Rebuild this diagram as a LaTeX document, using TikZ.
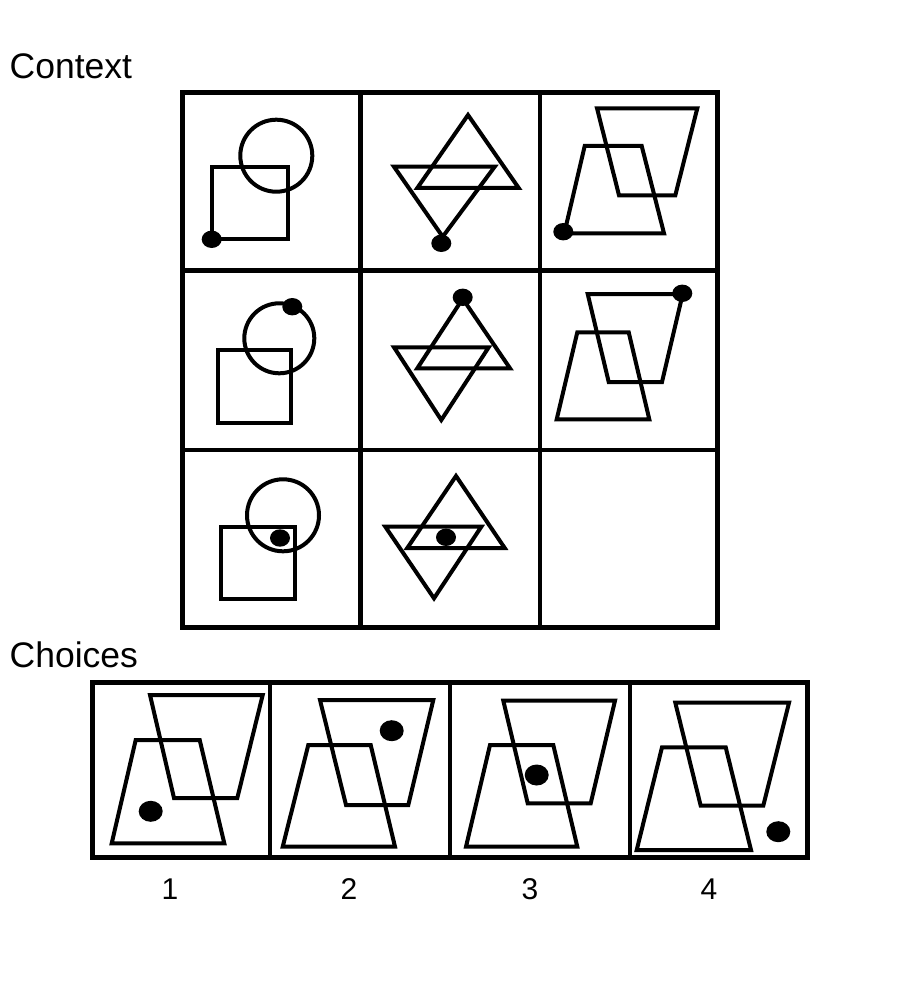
\documentclass[tikz,border=0pt]{standalone}
\usepackage{fontspec}
\setmainfont{Liberation Sans}
\begin{document}
\begin{tikzpicture}[x=1pt, y=-1pt,
    fig/.style={line width=4pt, line join=miter},
    frame/.style={line width=4.5pt},
    blob/.style={fill=black},
    caption/.style={font=\fontsize{35.5}{42}\selectfont, anchor=base west, inner sep=0pt},
    numlabel/.style={font=\fontsize{30}{36}\selectfont, anchor=base, inner sep=0pt}]
\useasboundingbox[fill=white] (0,0) rectangle (900,1000);

% Context label
\node[caption] (context) at (9.5,78.5) {Context};

% 3x3 grid
\draw[frame] (182.5,92.5) rectangle (717.5,627.5);
\foreach \x in {360.5, 540} \draw[frame] (\x,92.5) -- (\x,627.5);
\foreach \y in {270.5, 450} \draw[frame] (182.5,\y) -- (717.5,\y);

% row 1
\draw[fig] (276.3,155.7) circle (36pt);
\draw[fig] (211.7,167.3) rectangle (288.3,239);
\fill[blob] (211.7,239.3) ellipse (10pt and 8.7pt);

\draw[fig] (468,115) -- (518.7,188) -- (417.3,188) -- cycle;
\draw[fig] (394,166.7) -- (494.7,166.7) -- (442.7,236.7) -- cycle;
\fill[blob] (441.3,243.3) ellipse (10pt and 8.7pt);

\draw[fig] (597,108.3) -- (697.3,108.3) -- (675.3,195.3) -- (619,195.3) -- cycle;
\draw[fig] (584.7,146) -- (641.7,146) -- (664,233.3) -- (564.3,233.3) -- cycle;
\fill[blob] (563.3,231.7) ellipse (10pt and 8.7pt);

% row 2
\draw[fig] (279.3,338.3) circle (35pt);
\draw[fig] (218.3,350) rectangle (290.7,422.7);
\fill[blob] (292.3,306.7) ellipse (10pt and 8.7pt);

\draw[fig] (462.7,298.7) -- (510,368.3) -- (417.3,368.3) -- cycle;
\draw[fig] (394,347.3) -- (488.7,347.3) -- (441.3,420) -- cycle;
\fill[blob] (462.7,297.3) ellipse (10pt and 8.7pt);

\draw[fig] (587.7,294) -- (682.7,294) -- (662,382) -- (608.7,382) -- cycle;
\draw[fig] (577.3,332.3) -- (628.7,332.3) -- (649.3,419.3) -- (556.7,419.3) -- cycle;
\fill[blob] (682.3,293.3) ellipse (10pt and 8.7pt);

% row 3 (last cell empty)
\draw[fig] (283,515.3) circle (36pt);
\draw[fig] (220.7,526.7) rectangle (295,599);
\fill[blob] (280,538) ellipse (10pt and 8.7pt);

\draw[fig] (456,476) -- (504.7,548) -- (407.3,548) -- cycle;
\draw[fig] (385.3,526.7) -- (481.3,526.7) -- (434,598.3) -- cycle;
\fill[blob] (446,537.3) ellipse (10pt and 8.7pt);

% Choices label
\node[caption] (choices) at (9.5,667) {Choices};

% choice strip
\draw[frame] (92.5,682.5) rectangle (807.5,857.5);
\foreach \x in {270, 450, 630} \draw[frame] (\x,682.5) -- (\x,857.5);

% choice 1
\draw[fig] (150,695) -- (262.7,695) -- (237.3,798) -- (174,798) -- cycle;
\draw[fig] (135.7,740) -- (199.7,740) -- (224.3,843.3) -- (111.7,843.3) -- cycle;
\fill[blob] (150.7,811.3) ellipse (12pt and 10.5pt);

% choice 2
\draw[fig] (320,700) -- (433.3,700) -- (408.3,805) -- (346,805) -- cycle;
\draw[fig] (308.3,745) -- (370.7,745) -- (395,846.7) -- (282.7,846.7) -- cycle;
\fill[blob] (391.7,730.7) ellipse (12pt and 10.5pt);

% choice 3
\draw[fig] (503.3,700.7) -- (615,700.7) -- (590.7,803.3) -- (527.7,803.3) -- cycle;
\draw[fig] (490,745) -- (553.3,745) -- (577.3,846.7) -- (466,846.7) -- cycle;
\fill[blob] (536.7,775) ellipse (12pt and 10.5pt);

% choice 4
\draw[fig] (675.3,702.7) -- (789,702.7) -- (763.3,805.7) -- (700.7,805.7) -- cycle;
\draw[fig] (662,747.3) -- (725.7,747.3) -- (751,850) -- (636.7,850) -- cycle;
\fill[blob] (778.3,831.7) ellipse (12pt and 10.5pt);

% choice numbers
\foreach \x/\n in {170/1, 349/2, 530/3, 709/4}
    \node[numlabel] (num\n) at (\x,899) {\n};

\end{tikzpicture}
\end{document}
